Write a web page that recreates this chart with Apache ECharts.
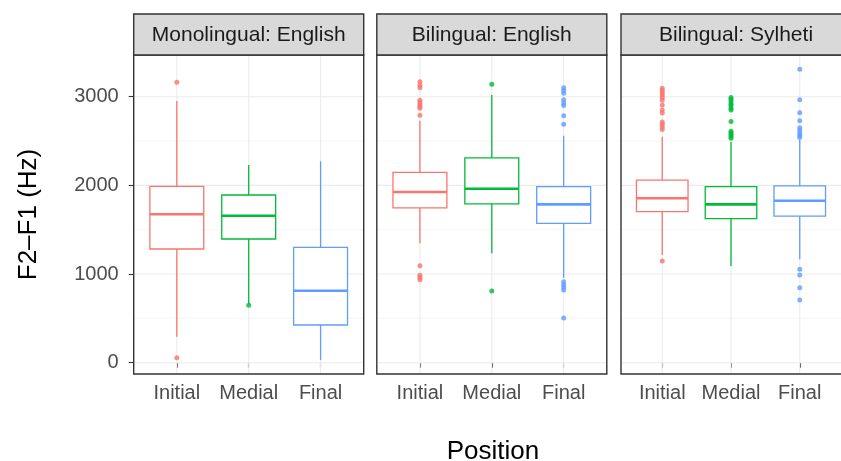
<!DOCTYPE html>
<html><head><meta charset="utf-8">
<script src="https://cdn.jsdelivr.net/npm/echarts@6/dist/echarts.min.js"></script>
<style>html,body{margin:0;padding:0;background:#fff}#chart{width:841px;height:461px}</style>
</head><body><div id="chart"></div>
<script>
// ---------- data ----------
const categories = ['Initial', 'Medial', 'Final'];
const panelTitles = ['Monolingual: English', 'Bilingual: English', 'Bilingual: Sylheti'];
const yTicks = [0, 1000, 2000, 3000];
const yMinorTicks = [500, 1500, 2500];

// [lower whisker, Q1, median, Q3, upper whisker] for Initial, Medial, Final
const monoEnglishStats = [
  [293, 1282, 1674, 1989, 2951],
  [660, 1395, 1658, 1891, 2230],
  [30, 425, 812, 1301, 2271]
];
const biEnglishStats = [
  [1347, 1745, 1925, 2147, 2729],
  [1234, 1790, 1962, 2309, 3019],
  [959, 1572, 1786, 1985, 2560]
];
const biSylhetiStats = [
  [1215, 1703, 1854, 2060, 2549],
  [1091, 1624, 1786, 1985, 2492],
  [1166, 1654, 1827, 1993, 2511]
];

// outliers for Initial, Medial, Final
const monoEnglishOutliers = [
  [3162, 56],
  [647],
  []
];
const biEnglishOutliers = [
  [3169, 3130, 3100, 2960, 2935, 2910, 2890, 2870, 2790, 1094, 985, 960, 935],
  [3140, 809],
  [3100, 3070, 3040, 2965, 2930, 2900, 2785, 2690, 914, 880, 850, 820, 504]
];
const biSylhetiOutliers = [
  [3095, 3070, 3045, 3020, 2990, 2960, 2905, 2850, 2815, 2715, 2690, 2660, 2630, 1147],
  [2990, 2970, 2945, 2920, 2900, 2870, 2850, 2720, 2610, 2590, 2570, 2550, 2530],
  [3309, 2966, 2819, 2729, 2650, 2620, 2590, 2565, 2540, 1053, 989, 846, 707]
];

const colors = ['#F8766D', '#00BA38', '#619CFF'];

// ---------- layout ----------
const FONT = '"Liberation Sans", Arial, Helvetica, sans-serif';
const panelLefts = [133.7, 376.8, 621];
const panelWidth = 230;
const panelTop = 55, panelHeight = 319;
const stripTop = 14, stripHeight = 41;
const yMin = -127.4, yMax = 3470;

const panelStats = [monoEnglishStats, biEnglishStats, biSylhetiStats];
const panelOutliers = [monoEnglishOutliers, biEnglishOutliers, biSylhetiOutliers];

function renderGrid(params, api) {
  const cs = params.coordSys;
  const kind = api.value(2);
  if (kind === 2) {
    const px = api.coord([api.value(0), 0])[0];
    return {type: 'line', shape: {x1: px, y1: cs.y, x2: px, y2: cs.y + cs.height},
      style: {stroke: '#ebebeb', lineWidth: 1.1}};
  }
  const py = api.coord([2, api.value(1)])[1];
  return {type: 'line', shape: {x1: cs.x, y1: py, x2: cs.x + cs.width, y2: py},
    style: {stroke: kind === 0 ? '#ebebeb' : '#f0f0f0', lineWidth: kind === 0 ? 1.1 : 0.7}};
}

function renderBox(params, api) {
  const x = api.value(0);
  const c = colors[api.value(6)];
  const half = api.size([0.75, 0])[0] / 2;
  const pLo = api.coord([x, api.value(1)]);
  const pQ1 = api.coord([x, api.value(2)]);
  const pMed = api.coord([x, api.value(3)]);
  const pQ3 = api.coord([x, api.value(4)]);
  const pHi = api.coord([x, api.value(5)]);
  const lw = 1.3;
  return {type: 'group', children: [
    {type: 'line', shape: {x1: pHi[0], y1: pHi[1], x2: pQ3[0], y2: pQ3[1]}, style: {stroke: c, lineWidth: lw}},
    {type: 'line', shape: {x1: pLo[0], y1: pLo[1], x2: pQ1[0], y2: pQ1[1]}, style: {stroke: c, lineWidth: lw}},
    {type: 'rect', shape: {x: pQ3[0] - half, y: pQ3[1], width: 2 * half, height: pQ1[1] - pQ3[1]},
      style: {fill: '#ffffff', stroke: c, lineWidth: lw}},
    {type: 'line', shape: {x1: pMed[0] - half, y1: pMed[1], x2: pMed[0] + half, y2: pMed[1]},
      style: {stroke: c, lineWidth: 2.6}}
  ]};
}

const grids = [], xAxes = [], yAxes = [], series = [], graphics = [];

for (let k = 0; k < 3; k++) {
  grids.push({left: panelLefts[k], top: panelTop, width: panelWidth, height: panelHeight, show: false});
  xAxes.push({
    gridIndex: k, type: 'value', min: 0.4, max: 3.6,
    axisLine: {show: false}, splitLine: {show: false},
    axisTick: {show: true, customValues: [1, 2, 3], length: 5, lineStyle: {color: '#333333', width: 1.1}},
    axisLabel: {show: true, customValues: [1, 2, 3], formatter: v => categories[Math.round(v) - 1],
      color: '#4d4d4d', fontSize: 20, fontFamily: FONT, margin: 9}
  });
  yAxes.push({
    gridIndex: k, type: 'value', min: yMin, max: yMax,
    axisLine: {show: false}, splitLine: {show: false},
    axisTick: {show: k === 0, customValues: yTicks, length: 5, lineStyle: {color: '#333333', width: 1.1}},
    axisLabel: {show: k === 0, customValues: yTicks, formatter: v => String(Math.round(v)),
      color: '#4d4d4d', fontSize: 20, fontFamily: FONT, margin: 15}
  });

  const gridData = [];
  yMinorTicks.forEach(v => gridData.push([2, v, 1]));
  yTicks.forEach(v => gridData.push([2, v, 0]));
  [1, 2, 3].forEach(x => gridData.push([x, 0, 2]));
  series.push({
    type: 'custom', xAxisIndex: k, yAxisIndex: k, z: 1, silent: true,
    renderItem: renderGrid, data: gridData, encode: {x: 0, y: 1}, clip: false
  });

  series.push({
    type: 'custom', xAxisIndex: k, yAxisIndex: k, z: 2, silent: true,
    renderItem: renderBox,
    data: panelStats[k].map((s, i) => [i + 1, s[0], s[1], s[2], s[3], s[4], i]),
    encode: {x: 0, y: [1, 2, 3, 4, 5]}
  });

  const outData = [];
  panelOutliers[k].forEach((arr, i) => arr.forEach(v => outData.push({value: [i + 1, v], itemStyle: {color: colors[i]}})));
  series.push({
    type: 'scatter', xAxisIndex: k, yAxisIndex: k, z: 3, silent: true,
    symbol: 'circle', symbolSize: 5, data: outData
  });

  // panel border
  graphics.push({type: 'rect', z: 100, silent: true,
    shape: {x: panelLefts[k], y: panelTop, width: panelWidth, height: panelHeight},
    style: {fill: null, stroke: '#333333', lineWidth: 1.4}});
  // strip
  graphics.push({type: 'rect', z: 100, silent: true,
    shape: {x: panelLefts[k], y: stripTop, width: panelWidth, height: stripHeight},
    style: {fill: '#d9d9d9', stroke: '#333333', lineWidth: 1.4}});
  graphics.push({type: 'text', z: 101, silent: true,
    x: panelLefts[k] + panelWidth / 2, y: stripTop + stripHeight / 2 + 1,
    style: {text: panelTitles[k], fill: '#1a1a1a', font: '21px ' + FONT, textAlign: 'center', textVerticalAlign: 'middle'}});
}

graphics.push({type: 'text', z: 101, silent: true, x: 29, y: 214.5, rotation: Math.PI / 2,
  style: {text: 'F2\u2013F1 (Hz)', fill: '#000000', font: '26px ' + FONT, textAlign: 'center', textVerticalAlign: 'middle'}});
graphics.push({type: 'text', z: 101, silent: true, x: 493, y: 452,
  style: {text: 'Position', fill: '#000000', font: '26px ' + FONT, textAlign: 'center', textVerticalAlign: 'middle'}});

const chart = echarts.init(document.getElementById('chart'), null, {renderer: 'canvas'});
chart.setOption({
  animation: false,
  backgroundColor: '#ffffff',
  grid: grids, xAxis: xAxes, yAxis: yAxes, series: series,
  graphic: graphics
});
</script></body></html>
